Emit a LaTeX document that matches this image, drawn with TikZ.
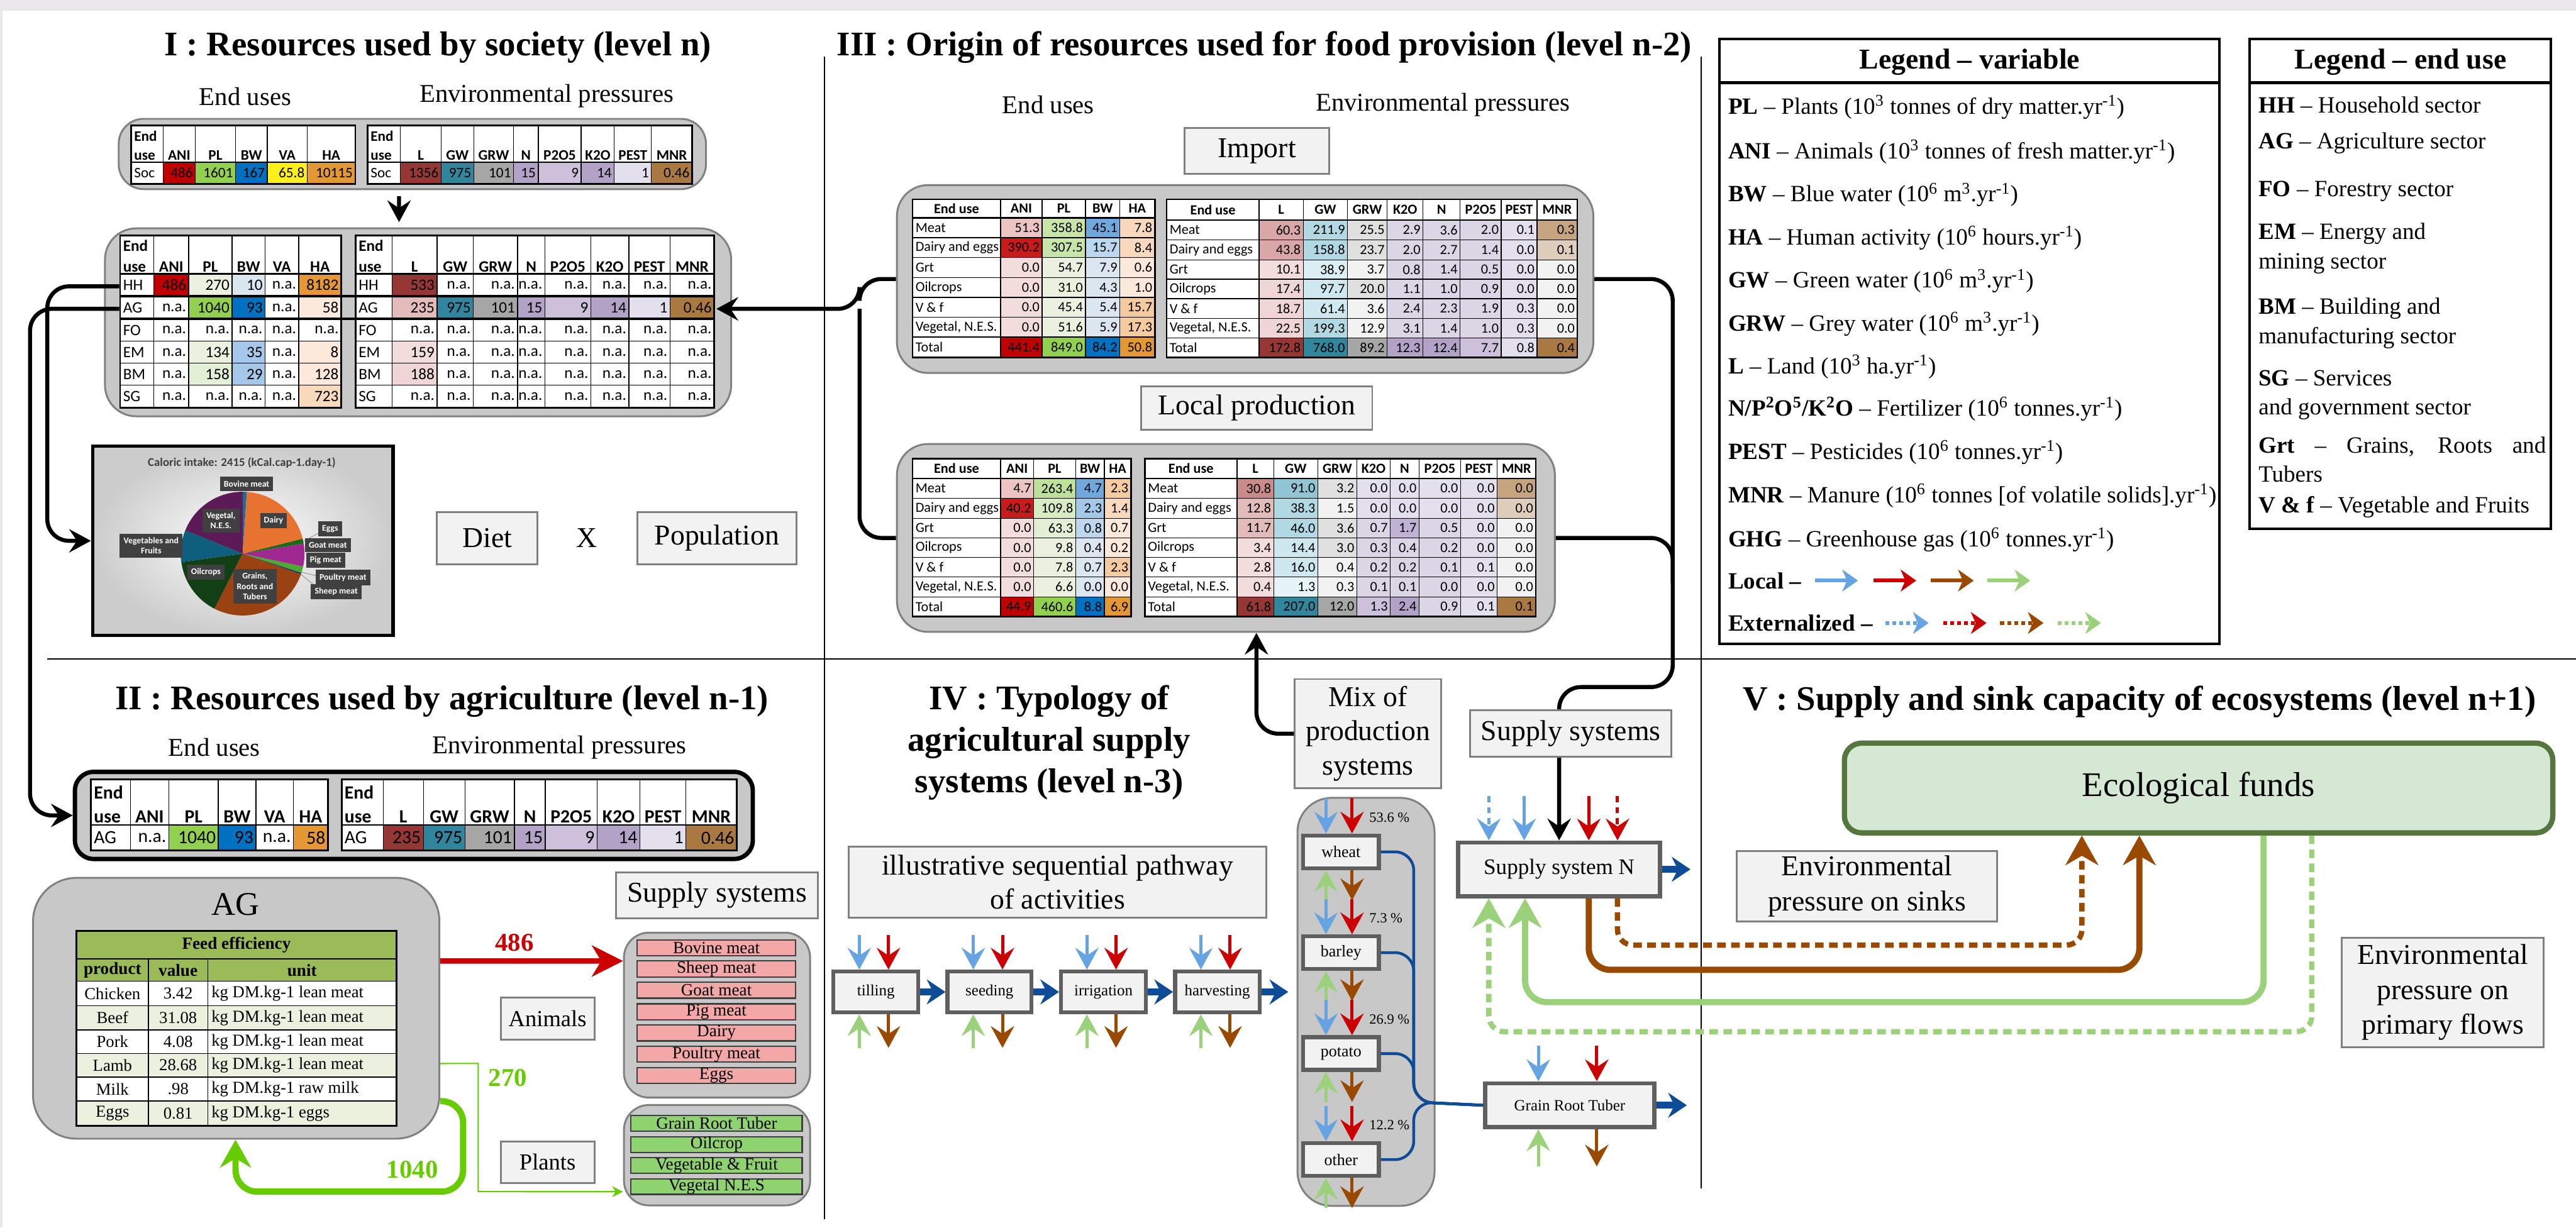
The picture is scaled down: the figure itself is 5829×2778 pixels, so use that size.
\documentclass[tikz,border=0pt]{standalone}
\usepackage{fontspec}
\setmainfont{Liberation Serif}
\newfontfamily\tabfont{Carlito}
\usetikzlibrary{arrows.meta,calc}

\definecolor{w}{HTML}{FFFFFF}
\definecolor{a0}{HTML}{C00000}
\definecolor{a1}{HTML}{C81B1B}
\definecolor{a2}{HTML}{EDC4C4}
\definecolor{a3}{HTML}{F2DCDC}
\definecolor{p0}{HTML}{92D050}
\definecolor{p1}{HTML}{BDE09A}
\definecolor{p2}{HTML}{C8E4A9}
\definecolor{p3}{HTML}{D8EBC3}
\definecolor{p4}{HTML}{E2EFD5}
\definecolor{p5}{HTML}{EBF1DE}
\definecolor{b0}{HTML}{0070C0}
\definecolor{b1}{HTML}{6FA8DC}
\definecolor{b2}{HTML}{A4C8EA}
\definecolor{b3}{HTML}{BDD7EE}
\definecolor{b4}{HTML}{DCE6F1}
\definecolor{v0}{HTML}{FFEF1A}
\definecolor{h0}{HTML}{E39835}
\definecolor{h1}{HTML}{F5CA9E}
\definecolor{h2}{HTML}{F9D9BB}
\definecolor{h3}{HTML}{FCE9DC}
\definecolor{l0}{HTML}{953735}
\definecolor{l1}{HTML}{C98A8A}
\definecolor{l2}{HTML}{D9A7A7}
\definecolor{l3}{HTML}{E3BBBB}
\definecolor{l4}{HTML}{EFD5D5}
\definecolor{l5}{HTML}{F2DCDC}
\definecolor{g0}{HTML}{31859C}
\definecolor{g1}{HTML}{92C5D3}
\definecolor{g2}{HTML}{B0D9E3}
\definecolor{g3}{HTML}{CDE8EF}
\definecolor{g4}{HTML}{DAEEF3}
\definecolor{g5}{HTML}{E6F3F7}
\definecolor{r0}{HTML}{A6A6A6}
\definecolor{r2}{HTML}{E0E0E0}
\definecolor{r3}{HTML}{F2F2F2}
\definecolor{u0}{HTML}{B3A2C7}
\definecolor{u1}{HTML}{C0B2D4}
\definecolor{u2}{HTML}{CCC0DA}
\definecolor{u3}{HTML}{DCD5E6}
\definecolor{u4}{HTML}{E4DFEC}
\definecolor{m0}{HTML}{AA7942}
\definecolor{m1}{HTML}{C6A47F}
\definecolor{m2}{HTML}{DDCDBA}
\definecolor{cF2}{HTML}{F2F2F2}
\definecolor{cC8}{HTML}{C8C8C8}
\definecolor{c80}{HTML}{808080}
\definecolor{c60}{HTML}{5F5F5F}
\definecolor{c40}{HTML}{404040}
\definecolor{cblue}{HTML}{66A3E3}
\definecolor{cred}{HTML}{CC0000}
\definecolor{cbrown}{HTML}{9A4A00}
\definecolor{cgreen}{HTML}{9CD17C}
\definecolor{cblueD}{HTML}{0F4C97}
\definecolor{fgreen}{HTML}{9BBB59}
\definecolor{fl}{HTML}{EBF1DE}
\definecolor{pinkc}{HTML}{F4A7A7}
\definecolor{grnc}{HTML}{8FD370}
\definecolor{limeg}{HTML}{66CC00}
\definecolor{ecofill}{HTML}{D5E8D4}
\definecolor{ecodraw}{HTML}{56763E}
\definecolor{band}{HTML}{E9E6EC}
\definecolor{pbov}{HTML}{1F6D8E}
\definecolor{pveg}{HTML}{5C1B56}
\definecolor{pvf}{HTML}{0E5F7E}
\definecolor{poil}{HTML}{133F17}
\definecolor{pgrt}{HTML}{9A4212}
\definecolor{pshe}{HTML}{203864}
\definecolor{ppou}{HTML}{4CA934}
\definecolor{ppig}{HTML}{A0298F}
\definecolor{pgoa}{HTML}{1B6A1B}
\definecolor{pdai}{HTML}{E8722F}

\newcommand\fsz[2]{\fontsize{#1}{#2}\selectfont}

\newcommand\tabgrid[5]{%
  \def\xsA{{#1}}\def\ysA{{#2}}%
  \foreach \y [count=\n] in {#2} {\ifnum\n=1 \xdef\yfirst{\y}\fi \xdef\ylast{\y}}%
  \foreach \x [count=\n] in {#1} {\ifnum\n=1 \xdef\xfirst{\x}\fi \xdef\xlast{\x}}%
  \foreach \rowdata [count=\ri from 0] in {#3} {%
    \pgfmathsetmacro\ya{\ysA[\ri]}%
    \pgfmathsetmacro\yb{\ysA[\ri+1]}%
    \foreach \cellc/\cellt [count=\kk from 0] in \rowdata {%
      \pgfmathsetmacro\xa{\xsA[\kk]}%
      \pgfmathsetmacro\xb{\xsA[\kk+1]}%
      \fill[\cellc] (\xa,\ya) rectangle (\xb,\yb);%
      \ifnum\ri=0
        \ifnum#5=1
          \ifnum\kk=0
            \node[anchor=south west,align=left,inner sep=0pt,font={#4\bfseries}] at (\xa+6,\yb-4) {\cellt};%
          \else
            \node[anchor=south,inner sep=0pt,font={#4\bfseries}] at ({(\xa+\xb)/2},\yb-4) {\cellt};%
          \fi
        \else
          \node[inner sep=0pt,font={#4\bfseries}] at ({(\xa+\xb)/2},{(\ya+\yb)/2}) {\cellt};%
        \fi
      \else
        \ifnum\kk=0
          \node[anchor=west,inner sep=0pt,font=#4] at (\xa+6,{(\ya+\yb)/2}) {\cellt};%
        \else
          \node[anchor=east,inner sep=0pt,font=#4] at (\xb-5,{(\ya+\yb)/2}) {\cellt};%
        \fi
      \fi
    }%
  }%
  \foreach \x in {#1} {\draw[tgrid] (\x,\yfirst) -- (\x,\ylast);}%
  \foreach \y in {#2} {\draw[tgrid] (\xfirst,\y) -- (\xlast,\y);}%
  \pgfmathsetmacro\yh{\ysA[1]}%
  \draw[tthick] (\xfirst,\yh) -- (\xlast,\yh);%
  \draw[tthick] (\xfirst,\yfirst) rectangle (\xlast,\ylast);%
}

\newcommand\fourarrows[5]{%
  \draw[sarr,cblue] ([xshift=#2,yshift=#4]#1.north west) -- ([xshift=#2]#1.north west);
  \draw[sarr,cred] ([xshift=#3,yshift=#4]#1.north west) -- ([xshift=#3]#1.north west);
  \draw[sarr,cgreen] ([xshift=#2,yshift=-#5]#1.south west) -- ([xshift=#2]#1.south west);
  \draw[sarr,cbrown] ([xshift=#3]#1.south west) -- ([xshift=#3,yshift=-#5]#1.south west);
}

\begin{document}
\begin{tikzpicture}[x=0.01cm,y=-0.01cm,
  tgrid/.style={line width=0.55pt},
  tthick/.style={line width=1.1pt},
  divline/.style={line width=0.8pt},
  title/.style={font=\bfseries\fsz{22.2pt}{27pt},align=center,inner sep=0pt},
  subt/.style={font=\fsz{16.5pt}{20pt},inner sep=0pt},
  lbox/.style={draw=c80,fill=cF2,line width=1.2pt,align=center,font=\fsz{18.5pt}{22.5pt},inner sep=0pt},
  graybox/.style={draw=c80,fill=cC8,line width=1.2pt,rounded corners=16pt,inner sep=0pt},
  conn/.style={line width=2.6pt,rounded corners=14pt},
  bigtip/.style={-{Stealth[length=14pt,width=15pt,inset=5pt]}},
  actbox/.style={draw=c60,fill=cF2,line width=2.6pt,inner sep=0pt,font=\fsz{10.1pt}{12pt}},
  sarr/.style={line width=2pt,-{Stealth[length=14pt,width=15pt,inset=5pt]}},
  chev/.style={line width=4.6pt,draw=cblueD,-{Stealth[length=12pt,width=16pt,inset=4pt]}},
  flow/.style={line width=4pt,rounded corners=14pt,-{Stealth[length=19pt,width=21pt,inset=6pt]}},
  dflow/.style={line width=3.4pt,rounded corners=10pt,dash pattern=on 5.5pt off 3.5pt,-{Stealth[length=19pt,width=21pt,inset=6pt]}},
  bluelink/.style={line width=1.8pt,draw=cblueD,rounded corners=12pt},
  pielab/.style={fill=c40,text=white,font=\tabfont\bfseries\fsz{5.6pt}{6.6pt},inner sep=2.5pt,align=center},
  feedt/.style={inner sep=0pt,font=\fsz{10.8pt}{13pt}},
  fgrid/.style={line width=0.6pt},
  legt/.style={anchor=west,inner sep=0pt,font=\fsz{15pt}{19pt},align=left},
  legarr/.style={line width=2.4pt,-{Stealth[length=10pt,width=14pt,inset=3pt]}},
  supitem/.style={draw=c40,line width=0.9pt,inner sep=0pt,font=\fsz{11pt}{13pt}}
]
\useasboundingbox (0,0) rectangle (5829,2778);
\fill[white] (0,0) rectangle (5829,2778);
\fill[band] (0,0) rectangle (5829,24);
\fill[band] (0,0) rectangle (5,2778);

% dividers
\draw[divline] (1866,128) -- (1866,2760);
\draw[divline] (3850,128) -- (3850,2690);
\draw[divline] (107,1492) -- (5829,1492);

% ================= Section I =================
\node[title] (t1) at (991,107) {I : Resources used by society (level n)};
\node[subt] (eu1) at (555,218) {End uses};
\node[subt] (ep1) at (1237,218) {Environmental pressures};

\node[graybox,minimum width=13.28cm,minimum height=1.59cm] (socbox) at (933,348.5) {};
\tabgrid{297,369,442,533,605,695,804}{284,367,416}{
 {w/{End\\use},w/ANI,w/PL,w/BW,w/VA,w/HA},
 {w/Soc,a0/486,p0/1601,b0/167,v0/65.8,h0/10115}}{\tabfont\fsz{9.4pt}{12.2pt}}{1}
\tabgrid{832,906,998,1072,1162,1218,1315,1390,1474,1566}{284,367,416}{
 {w/{End\\use},w/L,w/GW,w/GRW,w/N,w/P2O5,w/K2O,w/PEST,w/MNR},
 {w/Soc,l0/1356,g0/975,r0/101,u0/15,u2/9,u0/14,u4/1,m0/0.46}}{\tabfont\fsz{9.4pt}{12.2pt}}{1}

\node[graybox,rounded corners=20pt,minimum width=14.16cm,minimum height=4.25cm] (mainbox) at (946,729.5) {};
\draw[line width=2.6pt,bigtip] ([xshift=-0.30cm,yshift=-0.14cm]socbox.south) -- ([xshift=-0.43cm,yshift=0.12cm]mainbox.north);
\tabgrid{272,348,427,525,600,676,772}{533,620,670,722,772,822,872,923}{
 {w/{End\\use},w/ANI,w/PL,w/BW,w/VA,w/HA},
 {w/HH,a0/486,p5/270,b4/10,w/n.a.,h0/8182},
 {w/AG,w/n.a.,p0/1040,b0/93,w/n.a.,h3/58},
 {w/FO,w/n.a.,w/n.a.,w/n.a.,w/n.a.,w/n.a.},
 {w/EM,w/n.a.,p5/134,b2/35,w/n.a.,h3/8},
 {w/BM,w/n.a.,p4/158,b2/29,w/n.a.,h3/128},
 {w/SG,w/n.a.,w/n.a.,w/n.a.,w/n.a.,h2/723}}{\tabfont\fsz{10.2pt}{13.3pt}}{1}
\tabgrid{805,887,989,1071,1171,1233,1337,1423,1516,1616}{533,620,670,722,772,822,872,923}{
 {w/{End\\use},w/L,w/GW,w/GRW,w/N,w/P2O5,w/K2O,w/PEST,w/MNR},
 {w/HH,l0/533,w/n.a.,w/n.a.,w/n.a.,w/n.a.,w/n.a.,w/n.a.,w/n.a.},
 {w/AG,l3/235,g0/975,r0/101,u0/15,u2/9,u0/14,u4/1,m0/0.46},
 {w/FO,w/n.a.,w/n.a.,w/n.a.,w/n.a.,w/n.a.,w/n.a.,w/n.a.,w/n.a.},
 {w/EM,l5/159,w/n.a.,w/n.a.,w/n.a.,w/n.a.,w/n.a.,w/n.a.,w/n.a.},
 {w/BM,l4/188,w/n.a.,w/n.a.,w/n.a.,w/n.a.,w/n.a.,w/n.a.,w/n.a.},
 {w/SG,w/n.a.,w/n.a.,w/n.a.,w/n.a.,w/n.a.,w/n.a.,w/n.a.,w/n.a.}}{\tabfont\fsz{10.2pt}{13.3pt}}{1}
\draw[line width=1.7pt] (272,670) -- (1616,670);
\draw[line width=1.7pt] (272,722) -- (1616,722);
\coordinate (hhL) at (270,648);
\coordinate (agL) at (270,699);
\coordinate (agR) at (1621,699);

% pie chart
\node[draw=black,line width=2.3pt,minimum width=6.79cm,minimum height=4.28cm,inner sep=0pt,shading=radial,inner color=white,outer color=black!20] (pie) at (549.5,1224) {};
\node[font=\tabfont\bfseries\fsz{7.6pt}{9pt},text=c40,inner sep=0pt] (calor) at (547,1048) {Caloric intake: 2415 (kCal.cap-1.day-1)};
\begin{scope}[shift={(549,1253)},y=0.01cm]
\foreach \sa/\sb/\colr in {86/90/pbov,90/158/pveg,158/188/pvf,188/243/poil,243/340.5/pgrt,340.5/342/pshe,342/348/ppou,348/369.4/ppig,369.4/374/pgoa,374/446/pdai}
  {\fill[\colr] (0,0) -- (\sa:140) arc[start angle=\sa,end angle=\sb,radius=140] -- cycle;}
\draw[c80,line width=0.3pt] (188,62) -- (175,48) -- (136,27);
\draw[c80,line width=0.3pt] (212,-56) -- (190,-56) -- (134,-42);
\draw[c80,line width=0.3pt] (197,-86) -- (180,-86) -- (132,-47);
\end{scope}
\node[pielab] (lbov) at (558,1095) {Bovine meat};
\node[pielab] (ldai) at (619,1178) {Dairy};
\node[pielab] (legg) at (747,1197) {Eggs};
\node[pielab] (lgoa) at (742,1234) {Goat meat};
\node[pielab] (lpig) at (737,1268) {Pig meat};
\node[pielab] (lpou) at (776,1307) {Poultry meat};
\node[pielab] (lshe) at (761,1339) {Sheep meat};
\node[pielab] (lvf) at (342,1235) {Vegetables and\\Fruits};
\node[pielab] (lnes) at (500,1178) {Vegetal,\\N.E.S.};
\node[pielab] (loil) at (466,1295) {Oilcrops};
\node[pielab] (lgrt) at (577,1327) {Grains,\\Roots and\\Tubers};

\node[lbox,minimum width=2.27cm,minimum height=1.18cm] (diet) at (1102.5,1218) {Diet};
\node[font=\fsz{18.5pt}{22pt},inner sep=0pt] (times) at (1328,1218) {X};
\node[lbox,minimum width=3.6cm,minimum height=1.18cm] (pop) at (1622,1218) {Population};

% ================= Section II =================
\node[title] (t2) at (1000,1588) {II : Resources used by agriculture (level n-1)};
\node[subt] (eu2) at (485,1691) {End uses};
\node[subt] (ep2) at (1266,1691) {Environmental pressures};
\node[draw=black,line width=2.8pt,fill=cC8,rounded corners=12pt,minimum width=15.33cm,minimum height=1.97cm,inner sep=0pt] (s2box) at (936.5,1845.5) {};
\tabgrid{206,295,382,494,579,664,742}{1764,1867,1925}{
 {w/{End\\use},w/ANI,w/PL,w/BW,w/VA,w/HA},
 {w/AG,w/n.a.,p0/1040,b0/93,w/n.a.,h0/58}}{\tabfont\fsz{12pt}{15.5pt}}{1}
\tabgrid{773,867,958,1052,1164,1234,1351,1448,1552,1667}{1764,1867,1925}{
 {w/{End\\use},w/L,w/GW,w/GRW,w/N,w/P2O5,w/K2O,w/PEST,w/MNR},
 {w/AG,l0/235,g0/975,r0/101,u0/15,u2/9,u0/14,u4/1,m0/0.46}}{\tabfont\fsz{12pt}{15.5pt}}{1}

% connectors from section I rows
\draw[conn,bigtip] (hhL) -- (107,648) -- (107,1224) -- (pie.west);
\draw[conn,bigtip] (agL) -- (68,699) -- (68,1845.5) -- (s2box.west);

% AG box
\node[graybox,rounded corners=28pt,minimum width=9.19cm,minimum height=5.90cm] (agbox) at (534.5,2282) {};
\node[font=\fsz{21.3pt}{25pt},inner sep=0pt] (agt) at (533,2047) {AG};
\fill[fgreen] (173,2107) rectangle (897,2221);
\foreach \ya/\yb/\cl/\pp/\vv/\uu in {2221/2276/w/Chicken/3.42/{kg DM.kg-1 lean meat},2276/2331/fl/Beef/31.08/{kg DM.kg-1 lean meat},2331/2384/w/Pork/4.08/{kg DM.kg-1 lean meat},2384/2438/fl/Lamb/28.68/{kg DM.kg-1 lean meat},2438/2492/w/Milk/.98/{kg DM.kg-1 raw milk},2492/2548/fl/Eggs/0.81/{kg DM.kg-1 eggs}}{
  \fill[\cl] (173,\ya) rectangle (897,\yb);
  \node[feedt] at (254.5,{(\ya+\yb)/2}) {\pp};
  \node[feedt] at (403,{(\ya+\yb)/2}) {\vv};
  \node[feedt,anchor=west] at (478,{(\ya+\yb)/2}) {\uu};
}
\foreach \y in {2170,2221,2276,2331,2384,2438,2492} {\draw[fgrid] (173,\y) -- (897,\y);}
\foreach \x in {336,470} {\draw[fgrid] (\x,2170) -- (\x,2548);}
\draw[line width=1.3pt] (173,2107) rectangle (897,2548);
\node[feedt,font=\bfseries\fsz{11pt}{13pt}] (fet) at (535,2138.5) {Feed efficiency};
\node[feedt,font=\bfseries\fsz{11pt}{13pt}] at (254.5,2195.5) {product};
\node[feedt,font=\bfseries\fsz{11pt}{13pt}] at (403,2195.5) {value};
\node[feedt,font=\bfseries\fsz{11pt}{13pt}] at (683.5,2195.5) {unit};

\node[lbox,minimum width=4.57cm,minimum height=1.03cm] (ss2) at (1622.5,2026.5) {Supply systems};
\node[lbox,font=\fsz{14.8pt}{18pt},minimum width=2.12cm,minimum height=0.95cm] (anim) at (1239,2305.5) {Animals};
\node[lbox,font=\fsz{14.8pt}{18pt},minimum width=2.12cm,minimum height=0.95cm] (plan) at (1239,2630.5) {Plants};

\node[graybox,minimum width=4.21cm,minimum height=3.73cm] (anig) at (1622.5,2297.5) {};
\foreach \yy/\tx in {2145/Bovine meat,2193/Sheep meat,2241/Goat meat,2290/Pig meat,2338/Dairy,2386/Poultry meat,2434/Eggs}
  {\node[supitem,fill=pinkc,minimum width=3.58cm,minimum height=0.36cm] at (1621,\yy) {\tx};}
\node[graybox,minimum width=4.21cm,minimum height=2.27cm] (plg) at (1622.5,2614.5) {};
\foreach \yy/\tx in {2542.5/Grain Root Tuber,2590.5/Oilcrop,2638/Vegetable \& Fruit,2685.5/Vegetal N.E.S}
  {\node[supitem,fill=grnc,minimum width=3.87cm,minimum height=0.35cm] at (1621.5,\yy) {\tx};}

\draw[line width=3.4pt,cred,-{Stealth[length=20pt,width=20pt,inset=6pt]}] ([yshift=1.07cm]agbox.east) -- ([yshift=1.225cm]anig.west);
\node[font=\bfseries\fsz{16.5pt}{20pt},text=cred,inner sep=0pt] (n486) at (1164,2134) {486};
\draw[line width=0.85pt,limeg,-{Stealth[length=7pt,width=7pt]}] ([yshift=-1.25cm]agbox.east) -- (1082,2407) -- (1082,2697) -- ([yshift=-0.825cm]plg.west);
\node[font=\bfseries\fsz{16.5pt}{20pt},text=limeg,inner sep=0pt] (n270) at (1149,2440) {270};
\draw[line width=4pt,limeg,rounded corners=14pt,-{Stealth[length=18pt,width=20pt,inset=6pt]}] ([yshift=-2.10cm]agbox.east) -- (1048,2492) -- (1048,2697) -- (533,2697) -- ([xshift=-0.015cm]agbox.south);
\node[font=\bfseries\fsz{16.5pt}{20pt},text=limeg,inner sep=0pt] (n1040) at (933,2647) {1040};

% ================= Section III =================
\node[title] (t3) at (2861,107) {III : Origin of resources used for food provision (level n-2)};
\node[subt] (eu3) at (2372,237) {End uses};
\node[subt] (ep3) at (3265,237) {Environmental pressures};
\node[lbox,minimum width=3.26cm,minimum height=1.04cm] (import) at (2844,342) {Import};
\node[graybox,rounded corners=20pt,minimum width=15.75cm,minimum height=4.25cm] (impbox) at (2817.5,631.5) {};
\tabgrid{2065,2264,2358,2456,2534,2613}{451,493,538,583,628,673,718,763,809}{
 {w/End use,w/ANI,w/PL,w/BW,w/HA},
 {w/Meat,a2/51.3,p2/358.8,b1/45.1,h2/7.8},
 {w/Dairy and eggs,a1/390.2,p2/307.5,b3/15.7,h2/8.4},
 {w/Grt,a3/0.0,p5/54.7,b4/7.9,h3/0.6},
 {w/Oilcrops,a3/0.0,p5/31.0,b4/4.3,h3/1.0},
 {w/V \& f,a3/0.0,p5/45.4,b4/5.4,h1/15.7},
 {w/{Vegetal, N.E.S.},a3/0.0,p5/51.6,b4/5.9,h1/17.3},
 {w/Total,a0/441.4,p0/849.0,b0/84.2,h0/50.8}}{\tabfont\fsz{9pt}{10.5pt}}{0}
\tabgrid{2640,2849,2949,3049,3139,3220,3304,3397,3478,3569}{451,498,543,588,632,676,721,765,809}{
 {w/End use,w/L,w/GW,w/GRW,w/K2O,w/N,w/P2O5,w/PEST,w/MNR},
 {w/Meat,l2/60.3,g2/211.9,r2/25.5,u3/2.9,u3/3.6,u3/2.0,u4/0.1,m1/0.3},
 {w/Dairy and eggs,l2/43.8,g2/158.8,r2/23.7,u3/2.0,u3/2.7,u3/1.4,u4/0.0,m2/0.1},
 {w/Grt,l5/10.1,g4/38.9,r3/3.7,u3/0.8,u3/1.4,u3/0.5,u4/0.0,r3/0.0},
 {w/Oilcrops,l4/17.4,g3/97.7,r2/20.0,u3/1.1,u3/1.0,u3/0.9,u4/0.0,r3/0.0},
 {w/V \& f,l4/18.7,g3/61.4,r3/3.6,u3/2.4,u3/2.3,u3/1.9,u4/0.3,r3/0.0},
 {w/{Vegetal, N.E.S.},l4/22.5,g2/199.3,r3/12.9,u3/3.1,u3/1.4,u3/1.0,u4/0.3,r3/0.0},
 {w/Total,l0/172.8,g0/768.0,r0/89.2,u0/12.3,u0/12.4,u2/7.7,u4/0.8,m0/0.4}}{\tabfont\fsz{9pt}{10.5pt}}{0}

\node[lbox,minimum width=5.22cm,minimum height=0.97cm] (locp) at (2844,923.5) {Local production};
\node[graybox,rounded corners=20pt,minimum width=14.88cm,minimum height=4.25cm] (locbox) at (2774,1217.5) {};
\tabgrid{2065,2264,2339,2434,2499,2559}{1038,1083,1128,1173,1217,1262,1306,1351,1395}{
 {w/End use,w/ANI,w/PL,w/BW,w/HA},
 {w/Meat,a2/4.7,p1/263.4,b1/4.7,h1/2.3},
 {w/Dairy and eggs,a1/40.2,p3/109.8,b2/2.3,h2/1.4},
 {w/Grt,a3/0.0,p4/63.3,b3/0.8,h3/0.7},
 {w/Oilcrops,a3/0.0,p5/9.8,b4/0.4,h3/0.2},
 {w/V \& f,a3/0.0,p5/7.8,b4/0.7,h1/2.3},
 {w/{Vegetal, N.E.S.},a3/0.0,p5/6.6,b4/0.0,h3/0.0},
 {w/Total,a0/44.9,p0/460.6,b0/8.8,h0/6.9}}{\tabfont\fsz{9pt}{10.5pt}}{0}
\tabgrid{2591,2799,2882,2982,3070,3146,3211,3305,3388,3475}{1038,1083,1128,1173,1217,1262,1306,1351,1395}{
 {w/End use,w/L,w/GW,w/GRW,w/K2O,w/N,w/P2O5,w/PEST,w/MNR},
 {w/Meat,l1/30.8,g1/91.0,r2/3.2,u4/0.0,u4/0.0,u4/0.0,u4/0.0,m1/0.0},
 {w/Dairy and eggs,l3/12.8,g2/38.3,r3/1.5,u4/0.0,u4/0.0,u4/0.0,u4/0.0,m2/0.0},
 {w/Grt,l3/11.7,g2/46.0,r2/3.6,u3/0.7,u1/1.7,u3/0.5,u4/0.0,r3/0.0},
 {w/Oilcrops,l5/3.4,g3/14.4,r2/3.0,u3/0.3,u3/0.4,u3/0.2,u4/0.0,r3/0.0},
 {w/V \& f,l5/2.8,g3/16.0,r3/0.4,u3/0.2,u3/0.2,u3/0.1,u4/0.1,r3/0.0},
 {w/{Vegetal, N.E.S.},l5/0.4,g5/1.3,r3/0.3,u3/0.1,u3/0.1,u3/0.0,u4/0.0,r3/0.0},
 {w/Total,l0/61.8,g0/207.0,r0/12.0,u2/1.3,u0/2.4,u3/0.9,u4/0.1,m0/0.1}}{\tabfont\fsz{9pt}{10.5pt}}{0}

% brace connectors to section I
\draw[conn,bigtip] (impbox.west) -- (1945,631.5) -- (1945,699) -- (agR);
\draw[conn] (locbox.west) -- (1945,1217.5) -- (1945,699);

% ================= Legends =================
\node[draw=black,line width=1.7pt,minimum width=11.31cm,minimum height=13.68cm,inner sep=0pt] (legv) at (4456.5,773) {};
\draw[line width=1.7pt] (3891,187) -- (5022,187);
\node[font=\bfseries\fsz{18.5pt}{22pt},inner sep=0pt] (legvt) at (4457,140) {Legend -- variable};
\node[legt] at (3910,243) {\textbf{PL} -- Plants (10\textsuperscript{3} tonnes of dry matter.yr\textsuperscript{-1})};
\node[legt] at (3910,344) {\textbf{ANI} -- Animals (10\textsuperscript{3} tonnes of fresh matter.yr\textsuperscript{-1})};
\node[legt] at (3910,441) {\textbf{BW} -- Blue water (10\textsuperscript{6} m\textsuperscript{3}.yr\textsuperscript{-1})};
\node[legt] at (3910,538) {\textbf{HA} -- Human activity (10\textsuperscript{6} hours.yr\textsuperscript{-1})};
\node[legt] at (3910,636) {\textbf{GW} -- Green water (10\textsuperscript{6} m\textsuperscript{3}.yr\textsuperscript{-1})};
\node[legt] at (3910,734) {\textbf{GRW} -- Grey water (10\textsuperscript{6} m\textsuperscript{3}.yr\textsuperscript{-1})};
\node[legt] at (3910,830) {\textbf{L} -- Land (10\textsuperscript{3} ha.yr\textsuperscript{-1})};
\node[legt] at (3910,926) {\textbf{N/P\textsuperscript{2}O\textsuperscript{5}/K\textsuperscript{2}O} -- Fertilizer (10\textsuperscript{6} tonnes.yr\textsuperscript{-1})};
\node[legt] at (3910,1024) {\textbf{PEST} -- Pesticides (10\textsuperscript{6} tonnes.yr\textsuperscript{-1})};
\node[legt] at (3910,1122) {\textbf{MNR} -- Manure (10\textsuperscript{6} tonnes [of volatile solids].yr\textsuperscript{-1})};
\node[legt] at (3910,1221) {\textbf{GHG} -- Greenhouse gas (10\textsuperscript{6} tonnes.yr\textsuperscript{-1})};
\node[legt] at (3910,1314) {\textbf{Local --}};
\node[legt] at (3910,1410) {\textbf{Externalized --}};
\foreach \x/\colr in {4107/cblue,4239/cred,4369/cbrown,4497/cgreen}
  {\draw[legarr,\colr] (\x,1314) -- (\x+97,1314);}
\foreach \x/\colr in {4266/cblue,4397/cred,4526/cbrown,4656/cgreen}
  {\draw[legarr,\colr,dash pattern=on 2.5pt off 2pt] (\x,1410) -- (\x+98,1410);}

\node[draw=black,line width=1.7pt,minimum width=6.81cm,minimum height=11.08cm,inner sep=0pt] (lege) at (5431.5,643) {};
\draw[line width=1.7pt] (5091,187) -- (5772,187);
\node[font=\bfseries\fsz{18.5pt}{22pt},inner sep=0pt] (leget) at (5432,140) {Legend -- end use};
\node[legt] at (5110,237) {\textbf{HH} -- Household sector};
\node[legt] at (5110,324) {\textbf{AG} -- Agriculture sector};
\node[legt] at (5110,433) {\textbf{FO} -- Forestry sector};
\node[legt] at (5110,562) {\textbf{EM} -- Energy and\\mining sector};
\node[legt] at (5110,731) {\textbf{BM} -- Building and\\manufacturing sector};
\node[legt] at (5110,894) {\textbf{SG} -- Services\\and government sector};
\node[legt] at (5110,1040) {\makebox[6.5cm][s]{\textbf{Grt} -- Grains, Roots and}\\Tubers};
\node[legt] at (5110,1148) {\textbf{V \& f} -- Vegetable and Fruits};

% ================= Section IV =================
\node[title,font=\bfseries\fsz{22.2pt}{26.8pt}] (t4) at (2374,1681) {IV : Typology of\\agricultural supply\\systems (level n-3)};
\node[lbox,font=\fsz{18.5pt}{22pt},minimum width=9.44cm,minimum height=1.61cm] (path) at (2393,1996.5) {illustrative sequential pathway\\of activities};

\node[actbox,minimum width=1.92cm,minimum height=0.92cm] (till) at (1982,2245) {tilling};
\node[actbox,minimum width=1.90cm,minimum height=0.92cm] (seed) at (2239,2245) {seeding};
\node[actbox,minimum width=1.92cm,minimum height=0.92cm] (irri) at (2497,2245) {irrigation};
\node[actbox,minimum width=1.91cm,minimum height=0.92cm] (harv) at (2754.5,2245) {harvesting};
\coordinate (harvout) at (2915,2245);
\draw[chev] (till.east) -- (seed.west);
\draw[chev] (seed.east) -- (irri.west);
\draw[chev] (irri.east) -- (harv.west);
\draw[chev] (harv.east) -- (harvout);
\foreach \b in {till,seed,irri,harv} {\fourarrows{\b}{0.63cm}{1.29cm}{0.78cm}{0.76cm}}

\node[graybox,rounded corners=22pt,minimum width=3.10cm,minimum height=9.23cm] (mixbox) at (3091,2267.5) {};
\node[lbox,font=\fsz{18.5pt}{22pt},minimum width=3.31cm,minimum height=2.47cm] (mixlab) at (3095.5,1660.5) {Mix of\\production\\systems};
\draw[conn,bigtip] (mixlab.west) -- (2843,1660.5) -- ([xshift=0.69cm]locbox.south);

\node[lbox,minimum width=3.82cm,minimum height=0.99cm,draw=c60,line width=2.8pt,font=\fsz{10.1pt}{12pt}] (grt) at (3552,2501.5) {Grain Root Tuber};
\foreach \nm/\yy/\tx/\pc in {wheat/1928/wheat/53.6 \%,barley/2156/barley/7.3 \%,potato/2384.5/potato/26.9 \%,other/2624.5/other/12.2 \%}{
  \node[actbox,minimum width=1.71cm,minimum height=0.74cm,font=\fsz{10.5pt}{12pt}] (\nm) at (3034.5,\yy) {\tx};
  \node[anchor=west,inner sep=0pt,font=\fsz{9.1pt}{11pt}] at (3098,\yy-78) {\pc};
  \fourarrows{\nm}{0.56cm}{1.15cm}{0.8cm}{0.68cm}
  \draw[bluelink] (\nm.east) -- (3199,\yy) -- (3199,2494) -- (grt.west);
}
\fourarrows{grt}{1.25cm}{2.57cm}{0.8cm}{0.84cm}
\coordinate (grtout) at (3817,2501.5);
\draw[chev] (grt.east) -- (grtout);

% supply system N
\node[lbox,minimum width=4.56cm,minimum height=1.21cm,draw=c60,line width=2.8pt,font=\fsz{14.2pt}{17pt}] (ssn) at (3528,1967.5) {Supply system N};
\draw[conn,bigtip] (impbox.east) -- (3785,631.5) -- (3785,1555) -- (3528,1555) -- (ssn.north);
\draw[conn] (locbox.east) -- (3785,1217.5) -- (3785,1320);
\node[lbox,minimum width=4.55cm,minimum height=1.04cm] (ss4) at (3554.5,1660) {Supply systems};
\draw[sarr,cblue,dash pattern=on 4pt off 3pt] ([xshift=-1.59cm,yshift=1.0cm]ssn.north) -- ([xshift=-1.59cm]ssn.north);
\draw[sarr,cblue] ([xshift=-0.79cm,yshift=1.0cm]ssn.north) -- ([xshift=-0.79cm]ssn.north);
\draw[sarr,cred] ([xshift=0.67cm,yshift=1.0cm]ssn.north) -- ([xshift=0.67cm]ssn.north);
\draw[sarr,cred,dash pattern=on 4pt off 3pt] ([xshift=1.32cm,yshift=1.0cm]ssn.north) -- ([xshift=1.32cm]ssn.north);
\coordinate (ssnout) at (3825,1967.5);
\draw[chev] (ssn.east) -- (ssnout);

% ================= Section V =================
\node[title] (t5) at (4841,1588) {V : Supply and sink capacity of ecosystems (level n+1)};
\node[draw=ecodraw,fill=ecofill,line width=3.4pt,rounded corners=11pt,minimum width=16.02cm,minimum height=2.03cm,inner sep=0pt,font=\fsz{22.2pt}{26pt}] (eco) at (4975,1783.5) {Ecological funds};
\node[lbox,minimum width=5.89cm,minimum height=1.59cm] (eps) at (4224.5,2005.5) {Environmental\\pressure on sinks};
\node[lbox,minimum width=4.57cm,minimum height=2.48cm] (epf) at (5527.5,2246) {Environmental\\pressure on\\primary flows};

\draw[flow,cgreen] ([xshift=1.47cm]eco.south) -- (5122,2268) -- (3451,2268) -- ([xshift=-0.77cm]ssn.south);
\draw[dflow,cgreen] ([xshift=2.56cm]eco.south) -- (5231,2335) -- (3369,2335) -- ([xshift=-1.59cm]ssn.south);
\draw[flow,cbrown] ([xshift=0.67cm]ssn.south) -- (3595,2195) -- (4841,2195) -- ([xshift=-1.34cm]eco.south);
\draw[dflow,cbrown] ([xshift=1.32cm]ssn.south) -- (3660,2139) -- (4711,2139) -- ([xshift=-2.64cm]eco.south);
\end{tikzpicture}
\end{document}
